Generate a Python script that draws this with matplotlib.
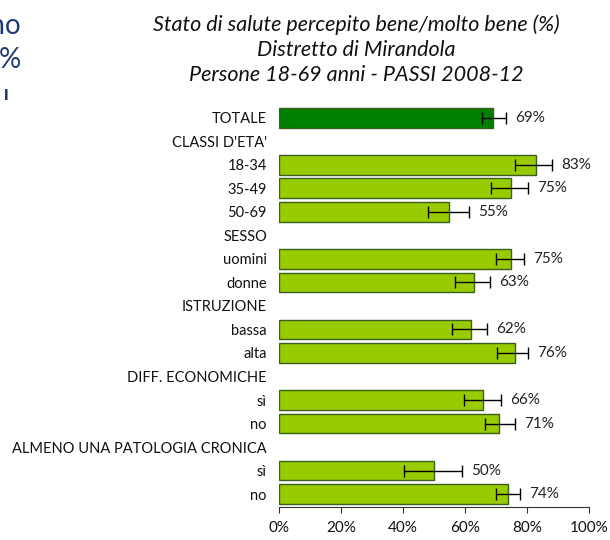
import matplotlib.pyplot as plt
import numpy as np
from matplotlib.transforms import Bbox, TransformedBbox

plt.rcParams['font.family'] = ['Lato', 'DejaVu Sans']

# data (None = group header rows)
labels = ["TOTALE", "CLASSI D'ETA'", "18-34", "35-49", "50-69", "SESSO",
          "uomini", "donne", "ISTRUZIONE", "bassa", "alta",
          "DIFF. ECONOMICHE", "sì", "no", "ALMENO UNA PATOLOGIA CRONICA",
          "sì", "no"]
values = [69, None, 83, 75, 55, None, 75, 63, None, 62, 76,
          None, 66, 71, None, 50, 74]
ci_low = [65.4, None, 76.1, 68.3, 48.0, None, 69.9, 56.8, None, 55.7, 70.5,
          None, 59.8, 66.5, None, 40.4, 69.9]
ci_high = [73.1, None, 88.0, 80.2, 61.3, None, 79.1, 68.1, None, 67.1, 80.2,
           None, 71.6, 76.1, None, 59.1, 77.7]

light_green = "#99CC00"
dark_green = "#008000"
edge = "#3B5F1E"

fig = plt.figure(figsize=(6.1, 5.4), dpi=100)
ax = fig.add_axes([0.457, 0.0611, 0.5085, 0.7445])

y = np.arange(len(labels))
for i, v in enumerate(values):
    if v is None:
        continue
    col = dark_green if labels[i] == "TOTALE" else light_green
    ax.barh(y[i], v, height=0.85, color=col, edgecolor=edge, linewidth=1.0)
    lo, hi = ci_low[i], ci_high[i]
    ax.errorbar([v], [y[i]], xerr=[[v - lo], [hi - v]], fmt='none',
                ecolor='black', elinewidth=1.0, capsize=4, capthick=1.0)
    ax.text(hi + 3, y[i], "%d%%" % v, va='center', ha='left',
            fontsize=11, color='#222222')

ax.set_ylim(16.553, -0.553)
ax.set_xlim(0, 100)
ax.set_yticks(y)
ax.set_yticklabels(labels, fontsize=10.5, color='#111111')
ax.set_xticks(np.arange(0, 101, 20))
ax.set_xticklabels(["%d%%" % t for t in range(0, 101, 20)], fontsize=11,
                   color='#111111')
ax.tick_params(axis='y', length=0, pad=8.5)
ax.tick_params(axis='x', length=4.3, direction='out', pad=6, color='#333333')
for s in ['top', 'right', 'left']:
    ax.spines[s].set_visible(False)
ax.spines['bottom'].set_color('#333333')

fig.text(0.584, 0.974, "Stato di salute percepito bene/molto bene (%)\n"
         "Distretto di Mirandola\nPersone 18-69 anni - PASSI 2008-12",
         ha='center', va='top', fontsize=15.5, style='italic',
         linespacing=1.32, color='#111111')

# fragment of the neighbouring slide, cut at the left edge
frag = '#1F3A78'
fig.text(21 / 610, 1 - 26 / 540, "anno", ha='right', va='center',
         fontsize=20, color=frag)
fig.text(21 / 610, 1 - 60 / 540, "%", ha='right', va='center',
         fontsize=20, color=frag)
t3 = fig.text(3 / 610, 1 - 110 / 540, "l", ha='left', va='baseline',
              fontsize=20, color=frag)
t3.set_clip_box(TransformedBbox(Bbox([[0, 1 - 100 / 540], [0.1, 1]]),
                                fig.transFigure))
t3.set_clip_on(True)

fig.savefig("out.png", dpi=100)
